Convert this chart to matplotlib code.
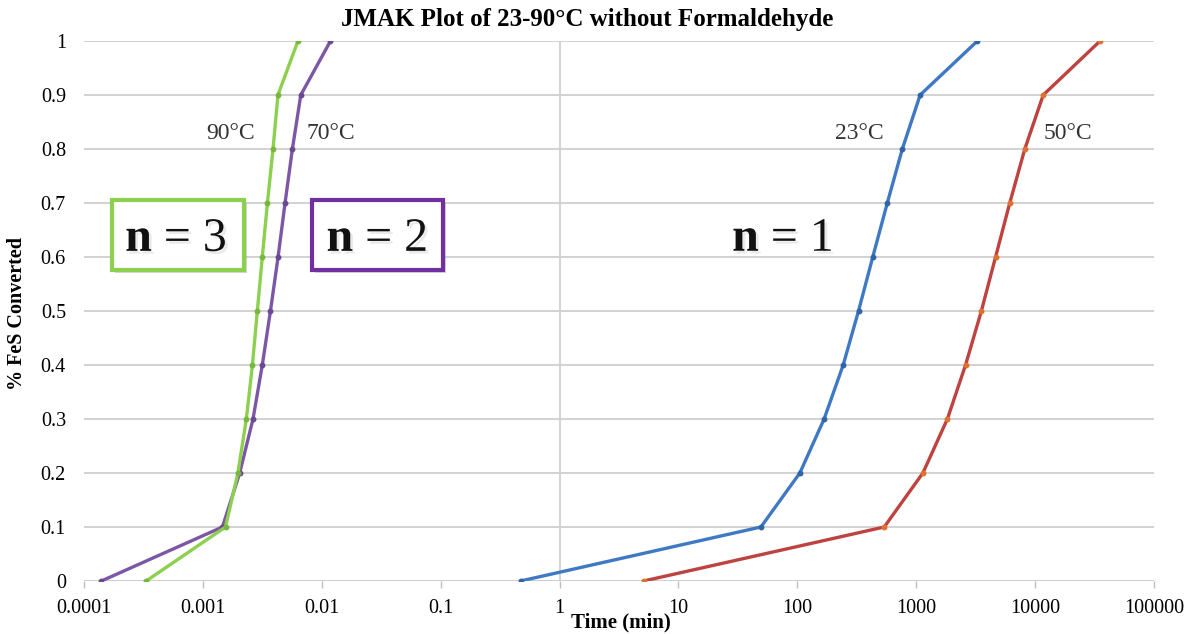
import matplotlib
matplotlib.use("Agg")
import matplotlib.pyplot as plt
import matplotlib.patheffects as pe
from matplotlib.patches import Rectangle

# fraction of FeS converted at each measured point
conversion = [0, 0.1, 0.2, 0.3, 0.4, 0.5, 0.6, 0.7, 0.8, 0.9, 1.0]

# time (min) to reach each conversion, per temperature
t_23C = [0.47, 49.4, 105, 168, 243, 327, 431, 571, 764, 1079, 3268]
t_50C = [5.1, 538, 1138, 1828, 2600, 3532, 4650, 6120, 8190, 11700, 35200]
t_70C = [0.000140, 0.00146, 0.00204, 0.00264, 0.00316, 0.00370,
         0.00429, 0.00491, 0.00566, 0.00666, 0.01184]
t_90C = [0.000333, 0.00155, 0.00197, 0.00232, 0.00261, 0.00287,
         0.00316, 0.00349, 0.00389, 0.00428, 0.0063]

x_ticks = [1e-4, 1e-3, 1e-2, 1e-1, 1, 10, 100, 1000, 10000, 100000]
x_ticklabels = ["0.0001", "0.001", "0.01", "0.1", "1", "10", "100", "1000", "10000", "100000"]
y_ticks = [0, 0.1, 0.2, 0.3, 0.4, 0.5, 0.6, 0.7, 0.8, 0.9, 1.0]
y_ticklabels = ["0", "0.1", "0.2", "0.3", "0.4", "0.5", "0.6", "0.7", "0.8", "0.9", "1"]

plt.rcParams["font.family"] = ["Liberation Serif", "DejaVu Serif"]
plt.rcParams["mathtext.fontset"] = "custom"
plt.rcParams["mathtext.rm"] = "Liberation Serif"
plt.rcParams["mathtext.bf"] = "Liberation Serif:bold"

fig = plt.figure(figsize=(12.01, 6.34), dpi=100)
ax = fig.add_axes([84 / 1201, 53 / 634, 1070 / 1201, 540 / 634])

series = [
    (t_23C, "#3F79C3", "#2F64A8"),
    (t_50C, "#BE423F", "#E0702E"),
    (t_70C, "#7B57A5", "#6A4894"),
    (t_90C, "#8DCF4E", "#76B83C"),
]
for t, col, mcol in series:
    ax.plot(t, conversion, color=col, lw=2.4, marker="o", ms=3.2,
            mfc=mcol, mec=mcol, zorder=3, solid_joinstyle="miter")

ax.set_xscale("log")
ax.set_xlim(1e-4, 1e5)
ax.set_ylim(0, 1)
ax.set_xticks(x_ticks)
ax.set_xticklabels(x_ticklabels)
ax.xaxis.set_minor_locator(plt.NullLocator())
ax.set_yticks(y_ticks)
ax.set_yticklabels(y_ticklabels)
ax.tick_params(axis="x", direction="out", length=5, width=1, color="#bfbfbf",
               labelsize=14.5, pad=8)
ax.tick_params(axis="y", length=0, labelsize=14.5, pad=13)

for s in ax.spines.values():
    s.set_visible(False)
ax.grid(axis="y", color="#cfcfcf", lw=1.3, zorder=0)
ax.axhline(0, color="#bfbfbf", lw=1.3, zorder=1)
ax.axvline(1, color="#cfcfcf", lw=1.3, zorder=1)

ax.set_title("JMAK Plot of 23-90°C without Formaldehyde", fontsize=18,
             fontweight="bold", x=0.470, pad=11)
ax.set_xlabel("Time (min)", fontsize=15, fontweight="bold")
ax.xaxis.set_label_coords(0.502, -0.058)
ax.set_ylabel("% FeS Converted", fontsize=14.5, fontweight="bold")
ax.yaxis.set_label_coords(-0.053, 0.496)

# temperature labels next to each curve
for label, xf in [("90°C", 0.1374), ("70°C", 0.2308), ("23°C", 0.7243), ("50°C", 0.9196)]:
    ax.text(xf, 0.818, label, transform=ax.transAxes, ha="center", va="baseline",
            fontsize=17, color="#333333")

# Avrami exponent callouts
shadow = [pe.withSimplePatchShadow(offset=(2, -2), shadow_rgbFace="#9a9a9a", alpha=0.4)]
for x0, w, ec in [(0.0262, 0.1234, "#8DCF4E"), (0.2131, 0.1224, "#7030A0")]:
    box = Rectangle((x0, 0.5759), w, 0.1296, transform=ax.transAxes, fill=True,
                    facecolor="white", edgecolor=ec, lw=3, zorder=4, path_effects=shadow)
    ax.add_patch(box)

for txt, xf in [("3", 0.0860), ("2", 0.2738), ("1", 0.6528)]:
    ax.text(xf, 0.6107, r"$\mathbf{n}$ = " + txt, transform=ax.transAxes,
            ha="center", va="baseline", fontsize=34.5, color="#111111", zorder=5,
            path_effects=[pe.withSimplePatchShadow(offset=(2, -2),
                                                   shadow_rgbFace="#bbbbbb", alpha=0.3)])

fig.savefig("out.png", dpi=100)
